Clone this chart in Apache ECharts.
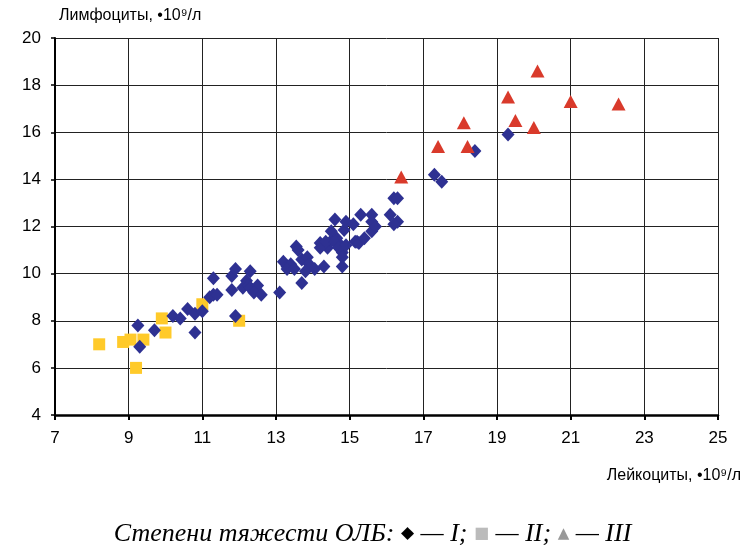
<!DOCTYPE html>
<html><head><meta charset="utf-8">
<script src="https://cdn.jsdelivr.net/npm/echarts@6/dist/echarts.min.js"></script>
<style>html,body{margin:0;padding:0;background:#fff}#c{width:745px;height:548px}</style>
</head><body><div id="c"></div>
<script>
const xTicks = [7, 9, 11, 13, 15, 17, 19, 21, 23, 25];
const yTicks = [4, 6, 8, 10, 12, 14, 16, 18, 20];
const xTitle = 'Лейкоциты, •10⁹/л';
const yTitle = 'Лимфоциты, •10⁹/л';

// Degree I (diamonds): [leukocytes, lymphocytes]
const degree1 = [
 [9.25,7.8],[9.3,6.9],[9.7,7.6],[10.2,8.2],[10.4,8.1],[10.6,8.5],[10.8,8.3],[11.0,8.4],[10.8,7.5],
 [11.2,9.0],[11.3,9.1],[11.4,9.1],[11.3,9.8],[11.9,8.2],[11.8,9.3],[11.8,9.9],[11.9,10.2],[12.1,9.4],
 [12.2,9.7],[12.25,9.5],[12.3,10.1],[12.3,9.4],[12.5,9.5],[12.4,9.2],[12.6,9.1],[13.1,9.2],
 [13.2,10.5],[13.3,10.3],[13.4,10.4],[13.3,10.2],[13.5,10.2],[13.55,11.15],[13.6,11.0],[13.7,10.6],
 [13.7,9.6],[13.85,10.7],[13.9,10.4],[13.8,10.1],[14.05,10.2],[14.3,10.3],[14.2,11.3],[14.4,11.1],
 [14.5,11.4],[14.2,11.1],[14.35,11.35],[14.5,11.8],[14.6,12.3],[14.65,11.5],[14.7,11.3],[14.6,11.35],
 [14.7,11.1],[14.8,10.3],[14.8,10.9],[14.8,10.7],[14.85,11.85],[14.9,12.2],[14.9,11.2],[15.1,12.1],
 [15.15,11.35],[15.2,11.35],[15.25,11.3],[15.3,12.5],[15.4,11.5],[15.6,11.8],[15.6,12.5],[15.6,12.2],
 [15.7,12.0],[16.1,12.5],[16.2,13.2],[16.3,13.2],[16.3,12.2],[16.2,12.1],
 [17.3,14.2],[17.5,13.9],[18.4,15.2],[19.3,15.9]
];
// Degree II (squares)
const degree2 = [
 [8.2,7.0],[8.85,7.1],[9.05,7.2],[9.4,7.2],[9.2,6.0],[9.9,8.1],[10.0,7.5],[11.0,8.7],[12.0,8.0]
];
// Degree III (triangles)
const degree3 = [
 [16.4,14.1],[17.4,15.4],[18.1,16.4],[18.2,15.4],[19.3,17.5],[19.5,16.5],[20.1,18.6],[20.0,16.2],[21.0,17.3],[22.3,17.2]
];

const chart = echarts.init(document.getElementById('c'), null, {renderer:'canvas'});
const lblFont = {fontFamily:'Liberation Sans', fontSize:17, color:'#000'};
chart.setOption({
  animation:false,
  grid:{left:55, right:27, top:38, bottom:133},
  xAxis:{type:'value', min:xTicks[0], max:xTicks[xTicks.length-1], interval:2,
    axisLine:{show:true, lineStyle:{color:'#000', width:2.5}},
    axisTick:{show:true, length:5, lineStyle:{color:'#000', width:2}},
    axisLabel:Object.assign({margin:15, formatter:v=>xTicks.includes(v)?String(v):''}, lblFont),
    splitLine:{show:true, lineStyle:{color:'#222', width:1}}
  },
  yAxis:{type:'value', min:yTicks[0], max:yTicks[yTicks.length-1], interval:2,
    axisLine:{show:true, lineStyle:{color:'#000', width:2}},
    axisTick:{show:true, length:4, lineStyle:{color:'#000', width:1.5}},
    axisLabel:Object.assign({margin:14, formatter:v=>yTicks.includes(v)?String(v):''}, lblFont),
    splitLine:{show:true, lineStyle:{color:'#222', width:1}}
  },
  series:[
    {type:'scatter', data:degree2, symbol:'rect', symbolSize:12, itemStyle:{color:'#FFCA2A', opacity:1}, z:2},
    {type:'scatter', data:degree1, symbol:'diamond', symbolSize:[13,14], itemStyle:{color:'#2E3192', opacity:1}, z:3},
    {type:'scatter', data:degree3, symbol:'triangle', symbolSize:[14,13], itemStyle:{color:'#D93A2B', opacity:1}, z:4}
  ],
  graphic:[
    {type:'text', left:59, top:8, style:{text:yTitle, font:'16px "Liberation Sans"', fill:'#000'}},
    {type:'text', right:4, top:468, style:{text:xTitle, font:'16px "Liberation Sans"', fill:'#000'}},
    {type:'text', left:'center', top:521, style:{
      text:'{t|Степени тяжести ОЛБ: }{d|◆}{t| — I; }{s|■}{t| — II; }{g|▲}{t| — III}',
      rich:{
        t:{fontFamily:'Liberation Serif', fontStyle:'italic', fontSize:26, fill:'#000'},
        d:{fontFamily:'DejaVu Sans', fontSize:17, fill:'#000'},
        s:{fontFamily:'DejaVu Sans', fontSize:16, fill:'#bbb'},
        g:{fontFamily:'DejaVu Sans', fontSize:15, fill:'#999'}
      }
    }}
  ]
});
</script></body></html>
